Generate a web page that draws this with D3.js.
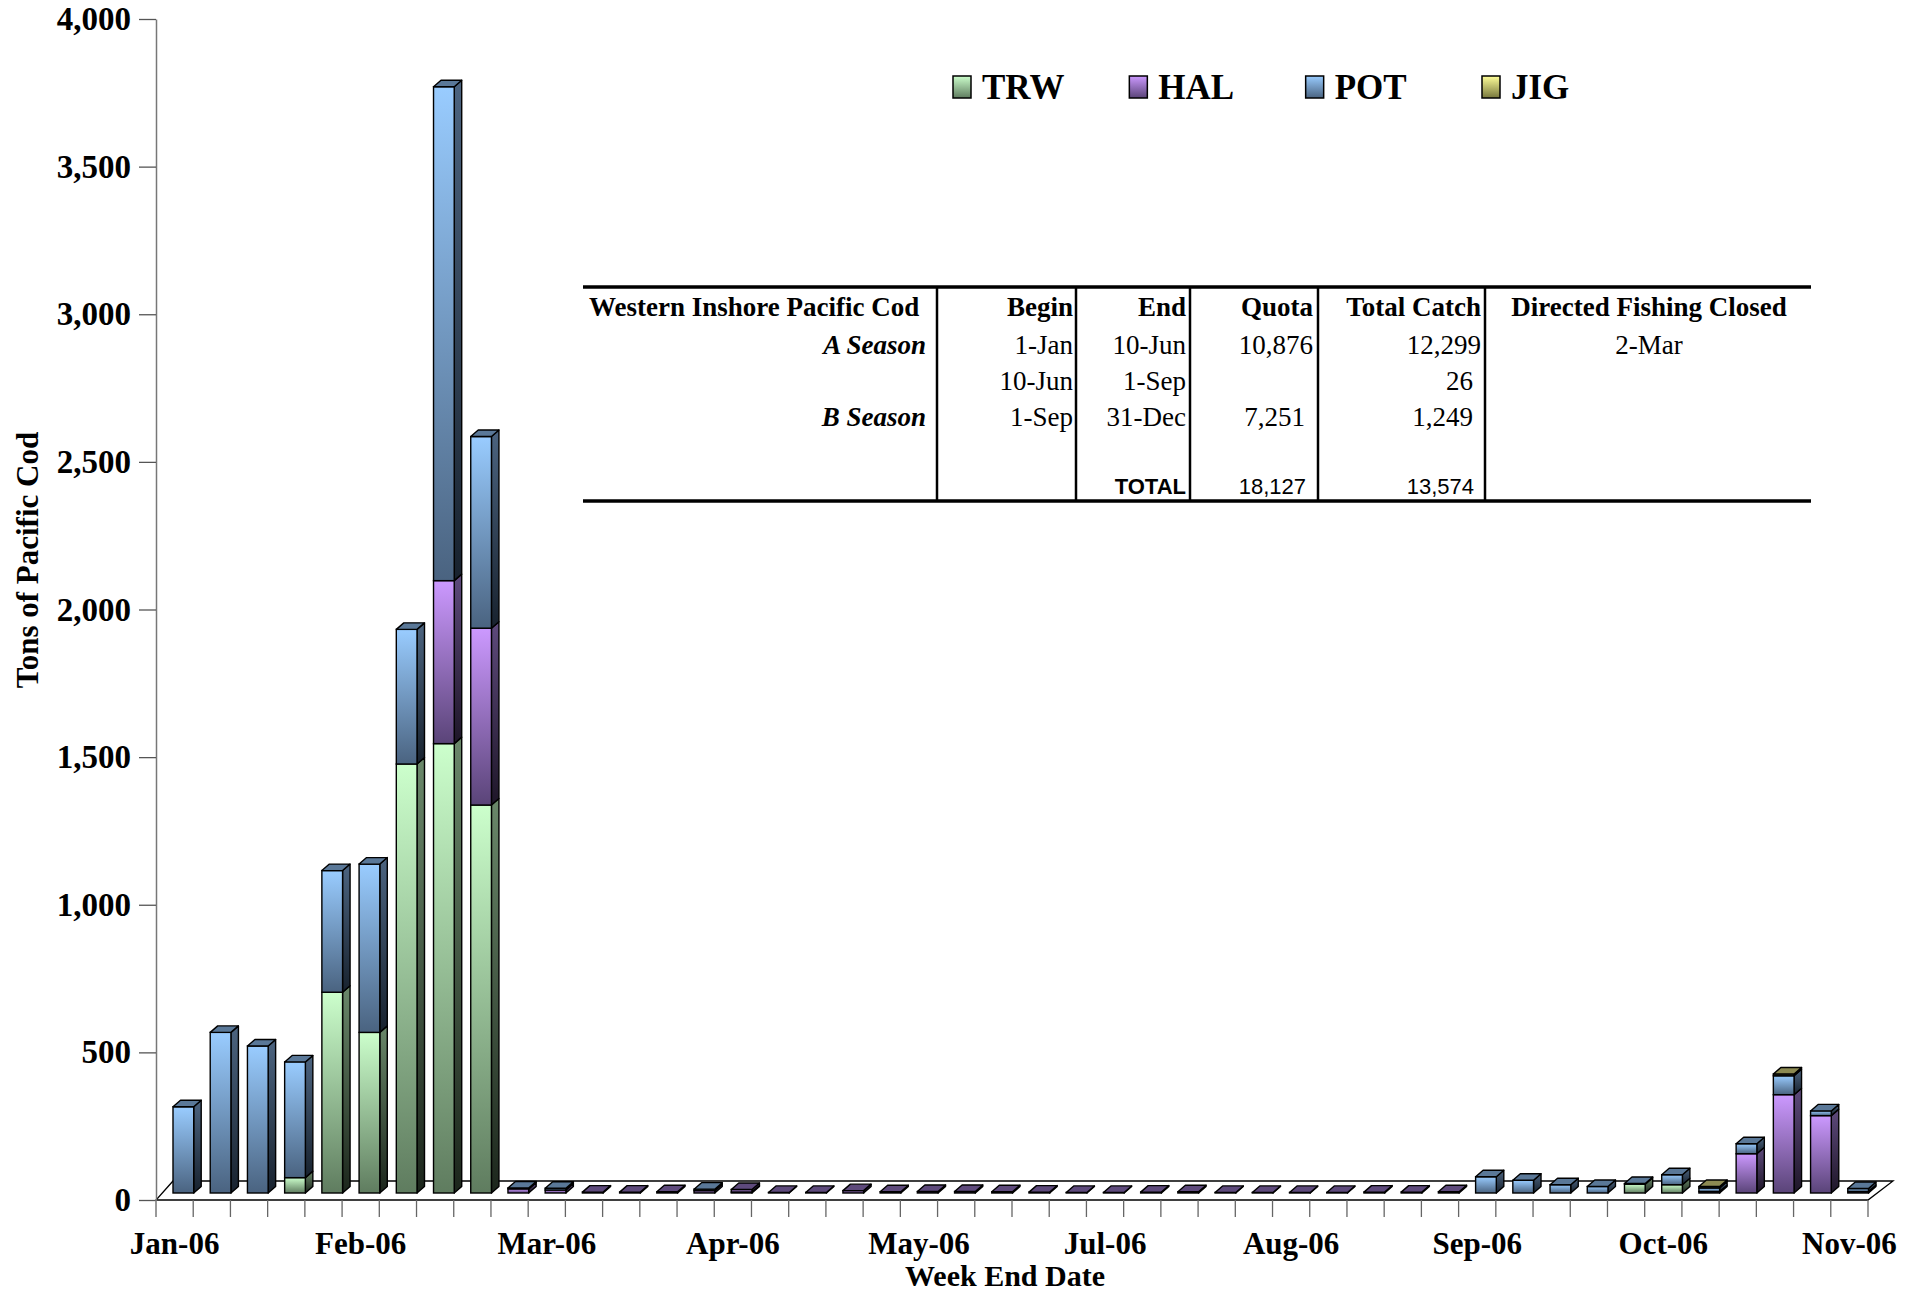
<html>
<head>
<script src="https://d3js.org/d3.v7.min.js"></script>
<style>
  body { margin: 0; background: #fff; }
</style>
</head>
<body>
<div id="output"></div>
<script>
    var width = 1921, height = 1294;
    var serif = "'Liberation Serif', 'Times New Roman', serif";
    var sans = "'Liberation Sans', Arial, sans-serif";

    // week ending dates, 2006
    var weeks = ["1/7","1/14","1/21","1/28","2/4","2/11","2/18","2/25","3/4","3/11",
                 "3/18","3/25","4/1","4/8","4/15","4/22","4/29","5/6","5/13","5/20",
                 "5/27","6/3","6/10","6/17","6/24","7/1","7/8","7/15","7/22","7/29",
                 "8/5","8/12","8/19","8/26","9/2","9/9","9/16","9/23","9/30","10/7",
                 "10/14","10/21","10/28","11/4","11/11","11/18"];
    var monthLabels = ["Jan-06","Feb-06","Mar-06","Apr-06","May-06","Jul-06","Aug-06","Sep-06","Oct-06","Nov-06"];

    var trw = [0,0,0,52,680,544,1453,1522,1314,0, 0,0,0,0,0,3,0,0,0,0,
               0,0,0,0,0,0,0,0,0,0, 0,0,0,0,0,0,0,0,0,30, 28,0,0,0,0,0];
    var hal = [0,0,0,0,0,0,0,552,599,14, 10,3,3,4,8,9,2,2,8,4,
               5,5,4,3,2,2,3,4,2,2, 2,2,3,3,4,0,0,0,0,0, 0,5,133,333,262,5];
    var pot = [292,544,498,392,412,570,456,1673,649,3, 6,0,0,0,5,0,0,0,0,0,
               0,0,0,0,0,0,0,0,0,0, 0,0,0,0,0,55,43,28,22,2, 34,12,34,64,16,10];
    var jig = [0,0,0,0,0,0,0,0,0,0, 0,0,0,0,0,0,0,0,0,0,
               0,0,0,0,0,0,0,0,0,0, 0,0,0,0,0,0,0,0,0,0, 0,5,0,6,0,0];

    var seriesNames = ["TRW","HAL","POT","JIG"];
    var yTicks = [0,500,1000,1500,2000,2500,3000,3500,4000];

    var tableHead = ["Western Inshore Pacific Cod","Begin","End","Quota","Total Catch","Directed Fishing Closed"];
    var tableRows = [
        ["A Season","1-Jan","10-Jun","10,876","12,299","2-Mar"],
        ["","10-Jun","1-Sep","","26",""],
        ["B Season","1-Sep","31-Dec","7,251","1,249",""]
    ];
    var totalRow = ["","","TOTAL","18,127","13,574",""];

    var colors = {
        TRW: {light: "#ccffcc", dark: "#5f7c5f", side1: "#6a886a", side2: "#1c261c", top: "#6f8f6f"},
        HAL: {light: "#cc99ff", dark: "#5a4478", side1: "#5e4a7c", side2: "#1e1628", top: "#5e4a7c"},
        POT: {light: "#99ccff", dark: "#4a6380", side1: "#4c6480", side2: "#18222e", top: "#5a7898"},
        JIG: {light: "#ffff99", dark: "#77773c", side1: "#7a7a44", side2: "#2a2a14", top: "#8c8a52"}
    };

    var svg = d3.select("#output").append("svg")
        .attr("width", width)
        .attr("height", height);

    var defs = svg.append("defs");
    seriesNames.forEach(function(s) {
        var g = defs.append("linearGradient").attr("id", "f-" + s)
            .attr("x1", 0).attr("y1", 0).attr("x2", 0).attr("y2", 1);
        g.append("stop").attr("offset", "0%").attr("stop-color", colors[s].light);
        g.append("stop").attr("offset", "100%").attr("stop-color", colors[s].dark);
        var g2 = defs.append("linearGradient").attr("id", "s-" + s)
            .attr("x1", 0).attr("y1", 0).attr("x2", 0).attr("y2", 1);
        g2.append("stop").attr("offset", "0%").attr("stop-color", colors[s].side1);
        g2.append("stop").attr("offset", "100%").attr("stop-color", colors[s].side2);
    });

    var x = d3.scaleBand().domain(weeks).range([156, 1868]);
    var y = d3.scaleLinear().domain([0, 4000]).range([1200, 19]);

    // 3d look
    var barOff = 17, barW = 20.7, lift = 7, dx = 7.5, dy = 6.5;

    // floor
    svg.append("path")
        .attr("d", "M156,1200 L1868,1200 L1893,1181 L173,1181 Z")
        .attr("fill", "#fff").attr("stroke", "#000").attr("stroke-width", 1.3);

    // y axis
    var yAxis = svg.append("g")
        .attr("transform", "translate(156,0)")
        .call(d3.axisLeft(y).tickValues(yTicks).tickFormat(d3.format(","))
            .tickSize(17).tickSizeOuter(0).tickPadding(8));
    yAxis.select(".domain").attr("stroke", "#777").attr("stroke-width", 1.5);
    yAxis.selectAll(".tick line").attr("stroke", "#555").attr("stroke-width", 1.3);
    yAxis.selectAll(".tick text")
        .attr("font-size", 33).attr("font-weight", "bold").attr("fill", "#000")
        .attr("font-family", serif);
    svg.append("line").attr("x1", 156).attr("x2", 156).attr("y1", 1200).attr("y2", 1217)
        .attr("stroke", "#777").attr("stroke-width", 1.5);

    // x category boundary ticks
    svg.append("g").selectAll("line").data(weeks).join("line")
        .attr("x1", function(d) { return x(d) + x.bandwidth(); })
        .attr("x2", function(d) { return x(d) + x.bandwidth(); })
        .attr("y1", 1200).attr("y2", 1217)
        .attr("stroke", "#666").attr("stroke-width", 1.3);

    var labelWeeks = weeks.filter(function(d, i) { return i % 5 === 0; });
    var xAxis = svg.append("g")
        .attr("transform", "translate(0,1200)")
        .call(d3.axisBottom(x).tickValues(labelWeeks)
            .tickFormat(function(d, i) { return monthLabels[i]; }).tickSize(0));
    xAxis.select(".domain").remove();
    xAxis.selectAll(".tick text")
        .attr("y", 54).attr("dy", 0)
        .attr("font-size", 31).attr("font-weight", "bold").attr("fill", "#000")
        .attr("font-family", serif);

    // bars
    var rows = weeks.map(function(w, i) {
        return {week: w, TRW: trw[i], HAL: hal[i], POT: pot[i], JIG: jig[i]};
    });
    var stacked = d3.stack().keys(seriesNames)(rows);

    var barG = svg.append("g");
    weeks.forEach(function(w, i) {
        var x0 = x(w) + barOff, x1 = x0 + barW;
        var segs = stacked.map(function(layer) {
            return {key: layer.key, v0: layer[i][0], v1: layer[i][1]};
        }).filter(function(s) { return s.v1 > s.v0; });
        segs.forEach(function(s, k) {
            var yb = y(s.v0) - lift, yt = y(s.v1) - lift;
            barG.append("path")
                .attr("d", "M" + x1 + "," + yt + " L" + (x1 + dx) + "," + (yt - dy) +
                      " L" + (x1 + dx) + "," + (yb - dy) + " L" + x1 + "," + yb + " Z")
                .attr("fill", "url(#s-" + s.key + ")")
                .attr("stroke", "#000").attr("stroke-width", 1.4).attr("stroke-linejoin", "round");
            barG.append("rect")
                .attr("x", x0).attr("y", yt).attr("width", barW).attr("height", Math.max(yb - yt, 0.01))
                .attr("fill", "url(#f-" + s.key + ")")
                .attr("stroke", "#000").attr("stroke-width", 1.4);
            if (k === segs.length - 1) {
                barG.append("path")
                    .attr("d", "M" + x0 + "," + yt + " L" + (x0 + dx) + "," + (yt - dy) +
                          " L" + (x1 + dx) + "," + (yt - dy) + " L" + x1 + "," + yt + " Z")
                    .attr("fill", colors[s.key].top)
                    .attr("stroke", "#000").attr("stroke-width", 1.4).attr("stroke-linejoin", "round");
            }
        });
    });

    // legend
    var lx = d3.scalePoint().domain(seriesNames).range([953, 1482]);
    var leg = svg.append("g").selectAll("g").data(seriesNames).join("g")
        .attr("transform", function(d) { return "translate(" + lx(d) + ",0)"; });
    leg.append("rect").attr("x", 0).attr("y", 76).attr("width", 18).attr("height", 22)
        .attr("fill", function(d) { return "url(#f-" + d + ")"; })
        .attr("stroke", "#000").attr("stroke-width", 1.5);
    leg.append("text").attr("x", 29).attr("y", 99)
        .attr("font-family", serif)
        .attr("font-size", 35).attr("font-weight", "bold")
        .text(function(d) { return d; });

    // axis titles
    svg.append("text")
        .attr("transform", "translate(38,560) rotate(-90)")
        .attr("text-anchor", "middle")
        .attr("font-family", serif)
        .attr("font-size", 31).attr("font-weight", "bold")
        .text("Tons of Pacific Cod");
    svg.append("text")
        .attr("x", 1005).attr("y", 1286)
        .attr("text-anchor", "middle")
        .attr("font-family", serif)
        .attr("font-size", 30).attr("font-weight", "bold")
        .text("Week End Date");

    // table
    var colRight = [926, 1073, 1186, 1313, 1481, 1649];
    var colLines = [937, 1076, 1190, 1318, 1485];
    var tbl = svg.append("g");
    tbl.selectAll(".hline").data([287, 501]).join("line")
        .attr("x1", 583).attr("x2", 1811)
        .attr("y1", function(d) { return d; }).attr("y2", function(d) { return d; })
        .attr("stroke", "#000").attr("stroke-width", 3.5);
    tbl.selectAll(".vline").data(colLines).join("line")
        .attr("x1", function(d) { return d; }).attr("x2", function(d) { return d; })
        .attr("y1", 287).attr("y2", 501)
        .attr("stroke", "#000").attr("stroke-width", 2.5);

    tableHead.forEach(function(t, c) {
        tbl.append("text")
            .attr("x", c === 0 ? 589 : colRight[c])
            .attr("y", 316)
            .attr("text-anchor", c === 0 ? "start" : (c === 5 ? "middle" : "end"))
            .attr("font-family", serif)
            .attr("font-size", 27).attr("font-weight", "bold")
            .text(t);
    });
    var rowY = [354, 390, 426];
    tableRows.forEach(function(r, ri) {
        r.forEach(function(t, c) {
            if (!t) return;
            var indent = (ri > 0 && (c === 3 || c === 4)) ? 8 : 0;
            tbl.append("text")
                .attr("x", colRight[c] - indent)
                .attr("y", rowY[ri])
                .attr("text-anchor", c === 5 ? "middle" : "end")
                .attr("font-family", serif)
                .attr("font-size", 27)
                .attr("font-weight", c === 0 ? "bold" : "normal")
                .attr("font-style", c === 0 ? "italic" : "normal")
                .text(t);
        });
    });
    totalRow.forEach(function(t, c) {
        if (!t) return;
        tbl.append("text")
            .attr("x", colRight[c] - (c > 2 ? 7 : 0))
            .attr("y", 494)
            .attr("text-anchor", "end")
            .attr("font-family", sans)
            .attr("font-size", 22)
            .attr("font-weight", c === 2 ? "bold" : "normal")
            .text(t);
    });
</script>
</body>
</html>
